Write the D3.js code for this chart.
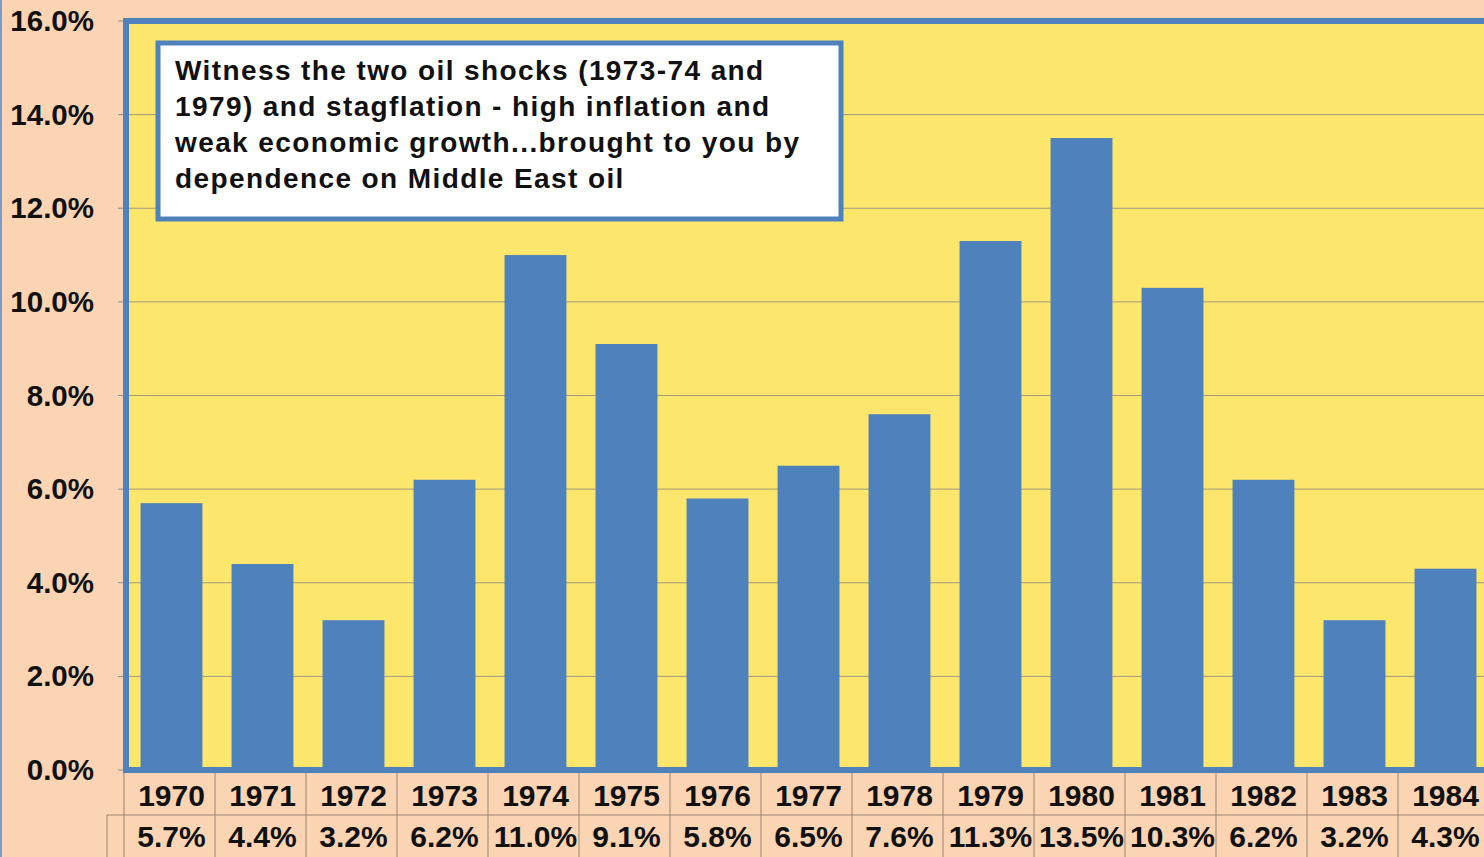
<!DOCTYPE html>
<html>
<head>
<meta charset="utf-8">
<script src="https://cdn.jsdelivr.net/npm/d3@7"></script>
<style>
  body { margin: 0; background: #fbd4b4; overflow: hidden; }
  text { font-family: "Liberation Sans", Arial, sans-serif; font-weight: bold; fill: #111; }
</style>
</head>
<body>
<div id="chart"></div>
<script>
// data
const years = ["1970", "1971", "1972", "1973", "1974", "1975", "1976", "1977",
  "1978", "1979", "1980", "1981", "1982", "1983", "1984"];
const inflation = [5.7, 4.4, 3.2, 6.2, 11.0, 9.1, 5.8, 6.5, 7.6, 11.3, 13.5, 10.3, 6.2, 3.2, 4.3];
const yTicks = [0, 2, 4, 6, 8, 10, 12, 14, 16];
const noteLines = [
  "Witness the two oil shocks (1973-74 and",
  "1979) and stagflation - high inflation and",
  "weak economic growth...brought to you by",
  "dependence on Middle East oil"
];

const width = 1484, height = 857;
const plot = { left: 126, top: 21, right: 1491, bottom: 770 };

const svg = d3.select("#chart").append("svg")
  .attr("width", width)
  .attr("height", height);

svg.append("rect")
  .attr("width", width).attr("height", height)
  .attr("fill", "#fbd4b4");
svg.append("line")
  .attr("x1", 1).attr("x2", 1).attr("y1", 0).attr("y2", height)
  .attr("stroke", "#7a9cc6").attr("stroke-width", 2);

const x = d3.scaleBand()
  .domain(years)
  .range([plot.left, plot.right])
  .paddingInner(0.32)
  .paddingOuter(0.16);

const y = d3.scaleLinear()
  .domain([0, 16])
  .range([plot.bottom, plot.top]);

// plot area
svg.append("rect")
  .attr("x", plot.left).attr("y", plot.top)
  .attr("width", plot.right - plot.left).attr("height", plot.bottom - plot.top)
  .attr("fill", "#fce66b");

// gridlines
svg.append("g")
  .selectAll("line")
  .data(yTicks.filter(d => d > 0 && d < 16))
  .join("line")
  .attr("x1", plot.left).attr("x2", plot.right)
  .attr("y1", d => y(d)).attr("y2", d => y(d))
  .attr("stroke", "#a09a80").attr("stroke-width", 1);

// y axis ticks and labels
const yAxis = svg.append("g");
yAxis.selectAll("line")
  .data(yTicks)
  .join("line")
  .attr("x1", plot.left - 8).attr("x2", plot.left)
  .attr("y1", d => y(d)).attr("y2", d => y(d))
  .attr("stroke", "#8a8a8a");
yAxis.selectAll("text")
  .data(yTicks)
  .join("text")
  .attr("x", 94)
  .attr("y", d => y(d) + 10)
  .attr("text-anchor", "end")
  .attr("font-size", 29.5)
  .text(d => d.toFixed(1) + "%");

// bars
svg.append("g")
  .selectAll("rect")
  .data(inflation)
  .join("rect")
  .attr("x", (d, i) => x(years[i]))
  .attr("y", d => y(d))
  .attr("width", x.bandwidth())
  .attr("height", d => y(0) - y(d))
  .attr("fill", "#4f81bd");

// plot border
svg.append("rect")
  .attr("x", plot.left).attr("y", plot.top)
  .attr("width", plot.right - plot.left).attr("height", plot.bottom - plot.top)
  .attr("fill", "none")
  .attr("stroke", "#4f81bd").attr("stroke-width", 6);

// data table below
const rowTop = 773, rowMid = 815, rowBot = 857;
const step = x.step();
const cellX = i => plot.left - 2 + i * step;
const table = svg.append("g").attr("stroke", "#9a8572").attr("stroke-width", 1);
table.append("line").attr("x1", 107).attr("x2", width).attr("y1", rowMid).attr("y2", rowMid);
table.append("line").attr("x1", 107).attr("x2", 107).attr("y1", rowMid).attr("y2", rowBot);
table.selectAll("line.sep")
  .data(d3.range(years.length + 1))
  .join("line")
  .attr("class", "sep")
  .attr("x1", i => cellX(i)).attr("x2", i => cellX(i))
  .attr("y1", rowTop).attr("y2", rowBot);

svg.append("g")
  .selectAll("text")
  .data(years)
  .join("text")
  .attr("x", d => x(d) + x.bandwidth() / 2)
  .attr("y", 806)
  .attr("text-anchor", "middle")
  .attr("font-size", 30)
  .text(d => d);

svg.append("g")
  .selectAll("text")
  .data(inflation)
  .join("text")
  .attr("x", (d, i) => x(years[i]) + x.bandwidth() / 2)
  .attr("y", 847)
  .attr("text-anchor", "middle")
  .attr("font-size", 30)
  .text(d => d.toFixed(1) + "%");

// annotation box
const note = svg.append("g");
note.append("rect")
  .attr("x", 158).attr("y", 43)
  .attr("width", 683).attr("height", 176)
  .attr("fill", "#ffffff")
  .attr("stroke", "#4f81bd").attr("stroke-width", 5);
note.selectAll("text")
  .data(noteLines)
  .join("text")
  .attr("x", 175)
  .attr("y", (d, i) => 80 + i * 36)
  .attr("font-size", 28)
  .attr("letter-spacing", 1.4)
  .text(d => d);
</script>
</body>
</html>
